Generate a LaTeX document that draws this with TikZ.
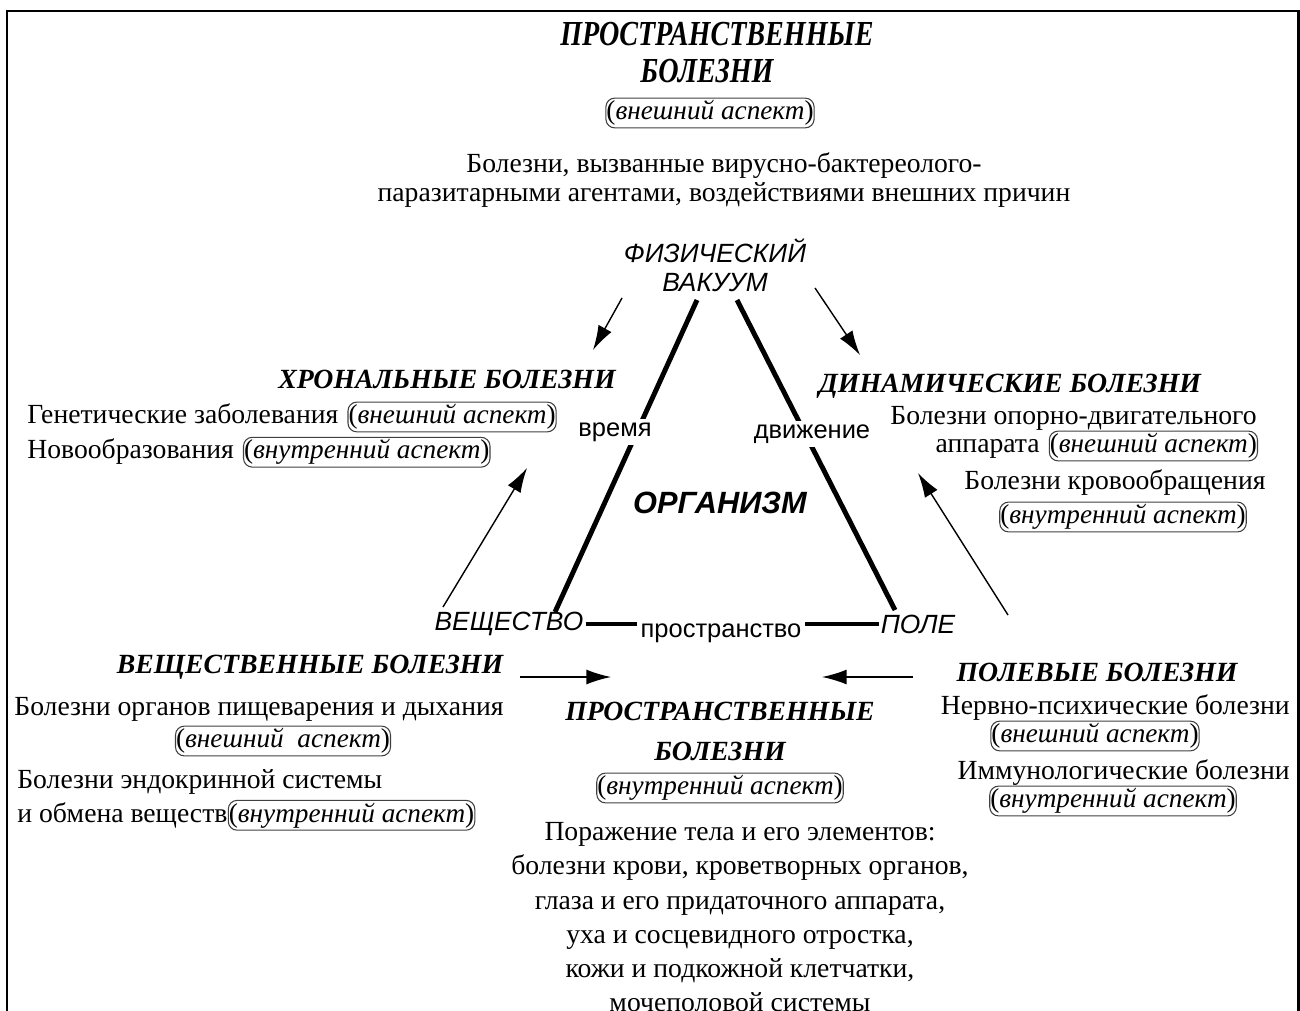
\documentclass[tikz,border=0pt]{standalone}
\usepackage{fontspec}
\setmainfont{Liberation Serif}
\setsansfont{Liberation Sans}
\usetikzlibrary{positioning}
\usetikzlibrary{arrows.meta}
\tikzset{>={Latex[length=14pt,width=8.5pt]}}
\tikzset{
    txt/.style = {inner sep=0pt, font=\fontsize{15.75}{18}\selectfont},
    head/.style = {inner sep=0pt, font=\fontsize{15.8}{20}\selectfont\bfseries\itshape},
    aspect/.style = {draw=black!75, line width=0.6pt, rounded corners=5pt,
        inner xsep=0.3pt, inner ysep=1.3pt, font=\fontsize{15.5}{18}\selectfont},
    vertex/.style = {inner sep=1pt, font=\fontsize{15}{17}\selectfont\sffamily\itshape},
    label/.style = {inner sep=2pt, fill=white, font=\fontsize{14.5}{17}\selectfont\sffamily},
    side/.style = {draw, line width=2.8pt},
    arrow/.style = {draw, ->, line width=0.8pt},
    frame/.style = {draw, line width=1.7pt}
}

\begin{document}
\begin{tikzpicture}[x=0.02cm, y=-0.02cm]
    \useasboundingbox (0,0) rectangle (1300,1010);
    \draw [frame] (7,1012) -- (7,11) -- (1298,11) -- (1298,1012);

    \node [head, font=\fontsize{20}{24}\selectfont\bfseries\itshape] (topA) at (717,34) {\scalebox{0.8}[1]{ПРОСТРАНСТВЕННЫЕ}};
    \node [head, font=\fontsize{20}{24}\selectfont\bfseries\itshape] (topB) at (707,71) {\scalebox{0.8}[1]{БОЛЕЗНИ}};
    \node [aspect] (topAsp) at (710,113) {(\textit{внешний аспект})};
    \node [txt, align=center, font=\fontsize{15.75}{16}\selectfont] (topTxt) at (724,180) {Болезни, вызванные вирусно-бактереолого-\\паразитарными агентами, воздействиями внешних причин};

    \node [vertex, align=center, font=\fontsize{15}{16.5}\selectfont\sffamily\itshape] (vak) at (715,265) {ФИЗИЧЕСКИЙ\\ВАКУУМ};
    \node [vertex] (vesh) at (509,624) {ВЕЩЕСТВО};
    \node [vertex] (pole) at (918,624) {ПОЛЕ};
    \node [vertex, font=\fontsize{17.5}{20}\selectfont\sffamily\bfseries\itshape] (org) at (720,503) {ОРГАНИЗМ};

    \coordinate (vakL) at (697,300);
    \coordinate (veshT) at (555,612);
    \coordinate (vakR) at (737,300);
    \coordinate (poleT) at (895,610);
    \draw [side] (vakL) -- (veshT);
    \draw [side] (vakR) -- (poleT);
    \draw [side] (vesh.east) -- (pole.west);
    \node [label] (vremya) at (615,432) {время};
    \node [label] (dvizh) at (812,434) {движение};
    \node [label] (prostr) at (721,633) {пространство};

    \node [head] (chron) at (447,379) {ХРОНАЛЬНЫЕ БОЛЕЗНИ};
    \node [txt, anchor=west] (gen) at (27,414) {Генетические заболевания};
    \node [aspect, right=5pt of gen.base east, anchor=base west] (genAsp) {(\textit{внешний аспект})};
    \node [txt, anchor=west] (novo) at (27,452) {Новообразования};
    \node [aspect, right=5pt of novo.base east, anchor=base west] (novoAsp) {(\textit{внутренний аспект})};

    \node [head] (dyn) at (1010,386) {ДИНАМИЧЕСКИЕ БОЛЕЗНИ};
    \node [txt, anchor=east] (opora) at (1257,418) {Болезни опорно-двигательного};
    \node [aspect, anchor=east] (oporaAsp) at (1258,446) {(\textit{внешний аспект})};
    \node [txt, left=5pt of oporaAsp.base west, anchor=base east] (apparat) {аппарата};
    \node [txt] (krov) at (1115,483) {Болезни кровообращения};
    \node [aspect] (krovAsp) at (1123,517) {(\textit{внутренний аспект})};

    \node [head] (veshHead) at (310,667) {ВЕЩЕСТВЕННЫЕ БОЛЕЗНИ};
    \node [txt] (pish) at (259,709) {Болезни органов пищеварения и дыхания};
    \node [aspect] (pishAsp) at (283,741) {(\textit{внешний\ \ аспект})};
    \node [txt, anchor=west] (endo) at (17,782) {Болезни эндокринной системы};
    \node [txt, anchor=west] (obmen) at (17,815) {и обмена веществ};
    \node [aspect, right=0pt of obmen.base east, anchor=base west] (obmenAsp) {(\textit{внутренний аспект})};

    \node [head] (poleHead) at (1097,672) {ПОЛЕВЫЕ БОЛЕЗНИ};
    \node [txt, anchor=east] (nerv) at (1290,708) {Нервно-психические болезни};
    \node [aspect] (nervAsp) at (1095,736) {(\textit{внешний аспект})};
    \node [txt, anchor=east] (immun) at (1290,773) {Иммунологические болезни};
    \node [aspect] (immunAsp) at (1113,801) {(\textit{внутренний аспект})};

    \node [head] (botA) at (720,711) {ПРОСТРАНСТВЕННЫЕ};
    \node [head] (botB) at (720,751) {БОЛЕЗНИ};
    \node [aspect] (botAsp) at (720,788) {(\textit{внутренний аспект})};
    \node [txt, align=center, anchor=north, font=\fontsize{15.75}{19.5}\selectfont] (botTxt) at (740,822) {Поражение тела и его элементов:\\болезни крови, кроветворных органов,\\глаза и его придаточного аппарата,\\уха и сосцевидного отростка,\\кожи и подкожной клетчатки,\\мочеполовой системы};

    \coordinate (a1s) at (622,298);
    \coordinate (a1e) at (593,350);
    \coordinate (a2s) at (815,288);
    \coordinate (a2e) at (860,355);
    \coordinate (a3s) at (443,607);
    \coordinate (a3e) at (527,468);
    \coordinate (a4s) at (1008,615);
    \coordinate (a4e) at (918,473);
    \coordinate (a5s) at (520,677);
    \coordinate (a5e) at (611,677);
    \coordinate (a6s) at (913,677);
    \coordinate (a6e) at (822,677);
    \draw [arrow] (a1s) -- (a1e);
    \draw [arrow] (a2s) -- (a2e);
    \draw [arrow] (a3s) -- (a3e);
    \draw [arrow] (a4s) -- (a4e);
    \draw [arrow] (a5s) -- (a5e);
    \draw [arrow] (a6s) -- (a6e);
\end{tikzpicture}
\end{document}
